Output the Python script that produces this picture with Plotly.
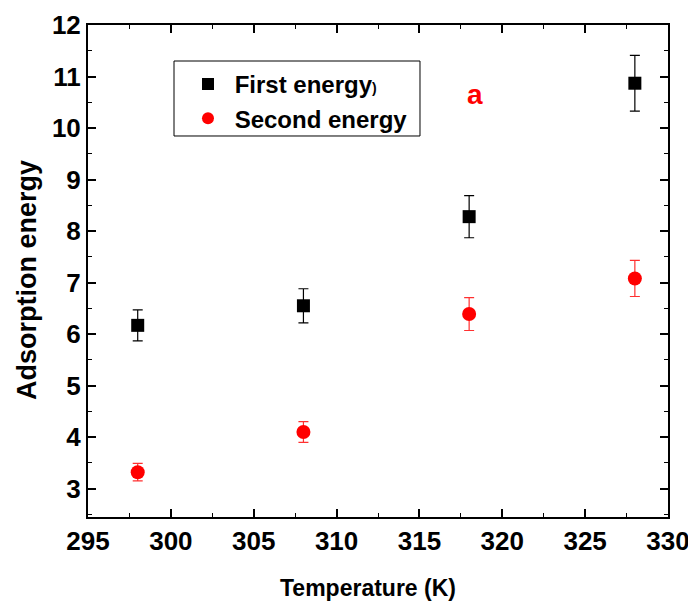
import plotly.graph_objects as go

temps = [298, 308, 318, 328]
first_energy = [6.17, 6.55, 8.28, 10.87]
first_err = [0.30, 0.33, 0.41, 0.54]
second_energy = [3.32, 4.10, 6.39, 7.08]
second_err = [0.17, 0.20, 0.32, 0.35]

font = "Liberation Sans, Arial, sans-serif"

fig = go.Figure()
fig.add_trace(go.Scatter(
    x=temps, y=first_energy, mode="markers",
    name="<b>&nbsp;First energy<span style='font-size:14px'>)</span></b>",
    marker=dict(symbol="square", size=13, color="black"),
    error_y=dict(type="data", array=first_err, color="black", thickness=1.2, width=5),
))
fig.add_trace(go.Scatter(
    x=temps, y=second_energy, mode="markers",
    name="<b>&nbsp;Second energy</b>",
    marker=dict(symbol="circle", size=14, color="#ff0000"),
    error_y=dict(type="data", array=second_err, color="#ff3030", thickness=1.2, width=5),
))

ann_common = dict(xref="paper", yref="paper", showarrow=False,
                  xanchor="center", yanchor="middle")
fig.add_annotation(x=0.667, y=0.858, text="<b>a</b>",
                   font=dict(family=font, size=28, color="#ff0000"), **ann_common)
fig.add_annotation(x=0.483, y=-0.1443, text="<b>Temperature (K)</b>",
                   font=dict(family=font, size=23, color="black"), **ann_common)
fig.add_annotation(x=-0.105, y=0.482, text="<b>Adsorption energy</b>", textangle=-90,
                   font=dict(family=font, size=27, color="black"), **ann_common)

fig.add_shape(type="rect", xref="paper", yref="paper",
              x0=0.1483, x1=0.5724, y0=0.7744, y1=0.9268,
              line=dict(color="black", width=1), layer="below")

axis_common = dict(
    showline=True, linecolor="black", linewidth=2, mirror="allticks",
    ticks="inside", ticklen=8, tickwidth=1.5, tickcolor="black",
    showgrid=False, zeroline=False, automargin=False,
    tickfont=dict(family=font, size=26, color="black"),
)

fig.update_xaxes(range=[295, 330], dtick=5, tick0=295,
                 minor=dict(dtick=2.5, ticks="inside", ticklen=4, tickcolor="black", tickwidth=1.2),
                 tickprefix="<b>", ticksuffix="</b>",
                 **axis_common)
fig.update_yaxes(range=[2.45, 12], dtick=1, tick0=0,
                 minor=dict(dtick=0.5, ticks="inside", ticklen=4, tickcolor="black", tickwidth=1.2),
                 tickprefix="<b>", ticksuffix="</b>",
                 **axis_common)

fig.update_layout(
    width=688, height=600,
    margin=dict(l=80, r=28, t=17, b=91),
    plot_bgcolor="white", paper_bgcolor="white",
    legend=dict(x=0.1724, y=0.925, xanchor="left", yanchor="top",
                borderwidth=0, bgcolor="rgba(0,0,0,0)",
                font=dict(family=font, size=24, color="black"),
                itemsizing="constant"),
    showlegend=True,
)

fig.write_html("out.html")
